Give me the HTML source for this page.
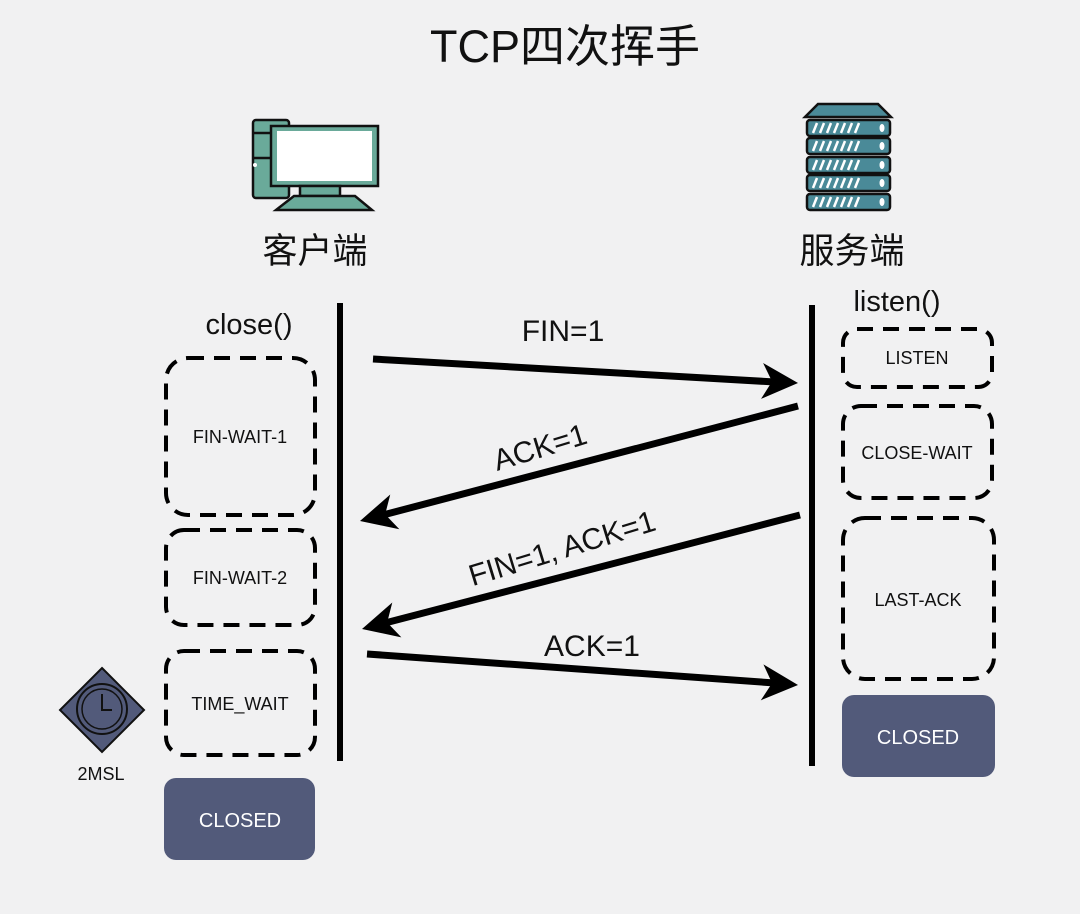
<!DOCTYPE html>
<html><head><meta charset="utf-8"><style>
body{margin:0;background:#f1f1f2;}
svg{display:block}
text{font-family:"Liberation Sans","Noto Sans CJK SC",sans-serif;fill:#111}
</style></head><body>
<svg width="1080" height="914" viewBox="0 0 1080 914" xmlns="http://www.w3.org/2000/svg">
<defs>
<g id="ah"><path d="M0,0 L-36,-18 L-26,0 L-36,18 Z" fill="#000"/></g>
</defs>
<rect width="1080" height="914" fill="#f1f1f2"/>
<text x="565" y="62" font-size="45" text-anchor="middle">TCP四次挥手</text>

<!-- computer -->
<g stroke="#111" stroke-width="2.5">
<rect x="253" y="120" width="36" height="78" rx="3" fill="#6aaa9a"/>
<line x1="253" y1="133" x2="289" y2="133"/>
<line x1="253" y1="158" x2="289" y2="158"/>
<rect x="271" y="126" width="107" height="60" fill="#6aaa9a"/>
<rect x="277" y="131" width="95" height="50" fill="#fff" stroke="none"/>
<rect x="300" y="186" width="40" height="10" fill="#6aaa9a"/>
<path d="M294,196 L355,196 L372,210 L276,210 Z" fill="#6aaa9a"/>
</g>
<circle cx="255" cy="165" r="2" fill="#fff"/>
<!-- server -->
<g stroke="#111" stroke-width="2.5" fill="#4a8a98">
<path d="M818,104 L878,104 L891,117 L805,117 Z"/>
<rect x="807" y="120" width="83" height="16" rx="3"/>
<rect x="807" y="138" width="83" height="16" rx="3"/>
<rect x="807" y="157" width="83" height="16" rx="3"/>
<rect x="807" y="175" width="83" height="16" rx="3"/>
<rect x="807" y="194" width="83" height="16" rx="3"/>
</g>
<g stroke="#fff" stroke-width="2.5">
<path d="M813,133 l4,-10 M820,133 l4,-10 M827,133 l4,-10 M834,133 l4,-10 M841,133 l4,-10 M848,133 l4,-10 M855,133 l4,-10"/>
<path d="M813,151 l4,-10 M820,151 l4,-10 M827,151 l4,-10 M834,151 l4,-10 M841,151 l4,-10 M848,151 l4,-10 M855,151 l4,-10"/>
<path d="M813,170 l4,-10 M820,170 l4,-10 M827,170 l4,-10 M834,170 l4,-10 M841,170 l4,-10 M848,170 l4,-10 M855,170 l4,-10"/>
<path d="M813,188 l4,-10 M820,188 l4,-10 M827,188 l4,-10 M834,188 l4,-10 M841,188 l4,-10 M848,188 l4,-10 M855,188 l4,-10"/>
<path d="M813,207 l4,-10 M820,207 l4,-10 M827,207 l4,-10 M834,207 l4,-10 M841,207 l4,-10 M848,207 l4,-10 M855,207 l4,-10"/>
</g>
<g fill="#fff"><ellipse cx="882" cy="128" rx="2.5" ry="4"/><ellipse cx="882" cy="146" rx="2.5" ry="4"/><ellipse cx="882" cy="165" rx="2.5" ry="4"/><ellipse cx="882" cy="183" rx="2.5" ry="4"/><ellipse cx="882" cy="202" rx="2.5" ry="4"/></g>

<text x="315" y="263" font-size="35" text-anchor="middle">客户端</text>
<text x="852" y="263" font-size="35" text-anchor="middle">服务端</text>
<text x="249" y="334" font-size="29" text-anchor="middle">close()</text>
<text x="897" y="311" font-size="29" text-anchor="middle">listen()</text>

<line x1="340" y1="303" x2="340" y2="761" stroke="#000" stroke-width="6"/>
<line x1="812" y1="305" x2="812" y2="766" stroke="#000" stroke-width="6"/>

<g fill="none" stroke="#000" stroke-width="4" stroke-dasharray="16,10">
<rect x="166" y="358" width="149" height="157" rx="22"/>
<rect x="166" y="530" width="149" height="95" rx="18"/>
<rect x="166" y="651" width="149" height="104" rx="18"/>
<rect x="843" y="329" width="149" height="58" rx="14"/>
<rect x="843" y="406" width="149" height="92" rx="18"/>
<rect x="843" y="518" width="151" height="161" rx="22"/>
</g>
<rect x="164" y="778" width="151" height="82" rx="12" fill="#525a7a"/>
<rect x="842" y="695" width="153" height="82" rx="12" fill="#525a7a"/>
<g font-size="18" text-anchor="middle">
<text x="240" y="443">FIN-WAIT-1</text>
<text x="240" y="584">FIN-WAIT-2</text>
<text x="240" y="710">TIME_WAIT</text>
<text x="917" y="364">LISTEN</text>
<text x="917" y="459">CLOSE-WAIT</text>
<text x="918" y="606">LAST-ACK</text>
<text x="240" y="827" style="fill:#fff" font-size="20">CLOSED</text>
<text x="918" y="744" style="fill:#fff" font-size="20">CLOSED</text>
</g>

<!-- arrows -->
<g stroke="#000" stroke-width="7">
<line x1="373" y1="359" x2="775" y2="382"/>
<line x1="798" y1="406" x2="383" y2="515"/>
<line x1="800" y1="515" x2="385" y2="623"/>
<line x1="367" y1="654" x2="775" y2="683"/>
</g>
<use href="#ah" transform="translate(798,383) rotate(3.3)"/>
<use href="#ah" transform="translate(360,521) rotate(165.3)"/>
<use href="#ah" transform="translate(362,629) rotate(165.4)"/>
<use href="#ah" transform="translate(798,685) rotate(4.2)"/>

<g font-size="30" text-anchor="middle">
<text x="563" y="341">FIN=1</text>
<text transform="translate(543,457) rotate(-17)">ACK=1</text>
<text transform="translate(565,558) rotate(-17)">FIN=1, ACK=1</text>
<text x="592" y="656">ACK=1</text>
</g>

<!-- clock diamond -->
<path d="M102,668 L144,710 L102,752 L60,710 Z" fill="#525a7a" stroke="#111" stroke-width="2"/>
<circle cx="102" cy="709" r="25" fill="none" stroke="#111" stroke-width="2"/>
<circle cx="102" cy="709" r="20" fill="none" stroke="#111" stroke-width="1.5"/>
<path d="M102,694 L102,710 L112,710" fill="none" stroke="#111" stroke-width="2"/>
<text x="101" y="780" font-size="18" text-anchor="middle">2MSL</text>
</svg>
</body></html>
